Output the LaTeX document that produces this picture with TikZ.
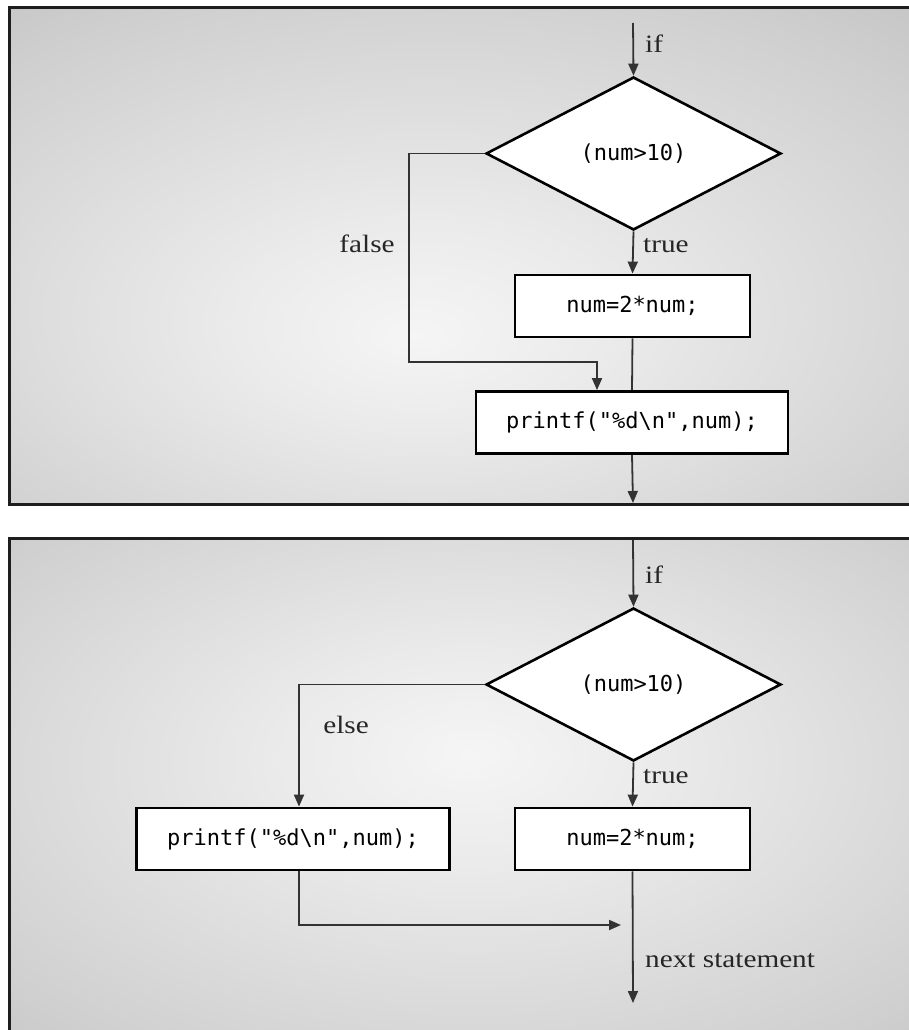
\documentclass[tikz,border=0pt]{standalone}
\usepackage{fontspec}
\setmainfont{Liberation Serif}
\newfontfamily\labelfont[FakeStretch=1.17]{Liberation Serif}
\newfontfamily\codefont{DejaVu Sans Mono}
\usetikzlibrary{arrows.meta,shapes.geometric,calc}
\definecolor{pc0}{HTML}{F5F5F5}
\definecolor{pc1}{HTML}{EBEBEB}
\definecolor{pc2}{HTML}{D0D0D0}
\definecolor{pc3}{HTML}{B6B6B6}
\definecolor{pc4}{HTML}{ADADAD}
\definecolor{linecol}{HTML}{333333}
\definecolor{bordercol}{HTML}{1E1E1E}
\pgfdeclareradialshading{panelshadetop}{\pgfpoint{-3bp}{-8bp}}{color(0bp)=(pc0); color(10bp)=(pc1); color(32bp)=(pc2); color(50bp)=(pc3); color(75bp)=(pc4)}
\pgfdeclareradialshading{panelshadebot}{\pgfpoint{0bp}{4bp}}{color(0bp)=(pc0); color(10bp)=(pc1); color(32bp)=(pc2); color(50bp)=(pc3); color(75bp)=(pc4)}
\tikzset{
  panel/.style={draw=bordercol, line width=3pt},
  decision/.style={diamond, draw=black, line width=2.6pt, fill=white, minimum width=295pt, minimum height=153pt, inner sep=0pt, font=\codefont\fontsize{22}{24}\selectfont},
  stmt/.style={rectangle, draw=black, line width=2.8pt, fill=white, minimum height=62pt, inner sep=0pt, font=\codefont\fontsize{22}{24}\selectfont},
  lbl/.style={anchor=base west, inner sep=0pt, font=\labelfont\fontsize{25}{28}\selectfont, text=black!85},
  conn/.style={draw=linecol, line width=1.8pt},
  arr/.style={conn, -{Triangle[length=12pt, width=10pt]}}
}
\begin{document}
\begin{tikzpicture}[x=1pt, y=-1pt]
\useasboundingbox (0,0) rectangle (909,1030);
\clip (0,0) rectangle (909,1030);
% panels
\shade[shading=panelshadetop] (9.5,7.5) rectangle (930,504.5);
\draw[panel] (9.5,7.5) rectangle (930,504.5);
\shade[shading=panelshadebot] (9.5,538.5) rectangle (930,1050);
\draw[panel] (9.5,538.5) rectangle (930,1050);

% ---------- top panel ----------
\coordinate (tstart) at (633,23);
\node[decision] (td) at (633.5,153.5) {(num>10)};
\node[stmt, minimum width=235pt] (tb1) at (632.5,306) {num=2*num;};
\node[stmt, minimum width=312pt] (tb2) at (632,422.5) {printf("\%d\textbackslash n",num);};
\coordinate (tfc) at (409,362);
\coordinate (tend) at (633,503);

\draw[arr] (tstart) -- (td.north);
\node[lbl] (tif) at (645,53) {if};
\draw[arr] (td.south) -- (tb1.north);
\node[lbl] (ttrue) at (643,252) {true};
\draw[conn] (tb1.south) -- (tb2.north);
\draw[arr] (td.west) -| (tfc) -| ([xshift=-35pt]tb2.north);
\node[lbl, anchor=base] (tfalse) at (367,252) {false};
\draw[arr] (tb2.south) -- (tend);

% ---------- bottom panel ----------
\coordinate (bstart) at (633,540);
\node[decision] (bd) at (633.5,684.5) {(num>10)};
\node[stmt, minimum width=235pt] (bn) at (632.5,839) {num=2*num;};
\node[stmt, minimum width=313pt] (bp) at (293,839) {printf("\%d\textbackslash n",num);};
\coordinate (bjoin) at (621,925);
\coordinate (bend) at (633,1003);

\draw[arr] (bstart) -- (bd.north);
\node[lbl] (bif) at (645,583) {if};
\draw[arr] (bd.west) -| ([xshift=6pt]bp.north);
\node[lbl, anchor=base] (belse) at (346,733) {else};
\draw[arr] (bd.south) -- (bn.north);
\node[lbl] (btrue) at (643,783) {true};
\draw[arr] ([xshift=6pt]bp.south) |- (bjoin);
\draw[arr] (bn.south) -- (bend);
\node[lbl] (bnext) at (645,967) {next statement};
\end{tikzpicture}
\end{document}
